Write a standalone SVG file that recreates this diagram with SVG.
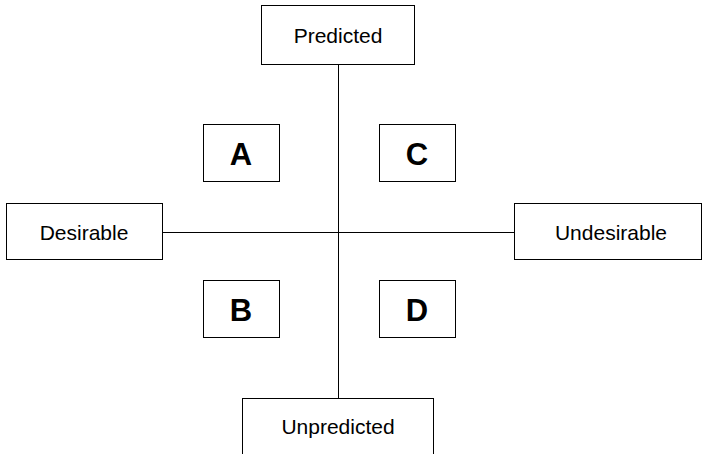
<svg xmlns="http://www.w3.org/2000/svg" width="703" height="454" viewBox="0 0 703 454">
<style>
.box{fill:#fff;stroke:#000;stroke-width:1}
.lbl{font-family:"Liberation Sans",Arial,sans-serif;font-size:21px;text-anchor:middle;fill:#000}
.big{font-family:"Liberation Sans",Arial,sans-serif;font-size:31px;font-weight:bold;text-anchor:middle;fill:#000}
.conn{stroke:#000;stroke-width:1;fill:none}
</style>
<rect width="703" height="454" fill="#fff"/>
<g id="connectors">
<line class="conn" x1="338.5" y1="64" x2="338.5" y2="398"/>
<line class="conn" x1="162" y1="232.5" x2="514" y2="232.5"/>
</g>
<g id="predicted"><rect class="box" x="261.5" y="5.5" width="153" height="59"/><text class="lbl" x="338" y="43">Predicted</text></g>
<g id="desirable"><rect class="box" x="6.5" y="203.5" width="156" height="56"/><text class="lbl" x="84" y="240">Desirable</text></g>
<g id="undesirable"><rect class="box" x="514.5" y="203.5" width="187" height="56"/><text class="lbl" x="611" y="240">Undesirable</text></g>
<g id="unpredicted"><rect class="box" x="242.5" y="398.5" width="191" height="70"/><text class="lbl" x="338" y="434">Unpredicted</text></g>
<g id="a"><rect class="box" x="203.5" y="124.5" width="76" height="57"/><text class="big" x="241" y="165">A</text></g>
<g id="c"><rect class="box" x="379.5" y="124.5" width="76" height="57"/><text class="big" x="417" y="165">C</text></g>
<g id="b"><rect class="box" x="203.5" y="280.5" width="76" height="57"/><text class="big" x="241" y="321">B</text></g>
<g id="d"><rect class="box" x="379.5" y="280.5" width="76" height="57"/><text class="big" x="417" y="321">D</text></g>
</svg>
